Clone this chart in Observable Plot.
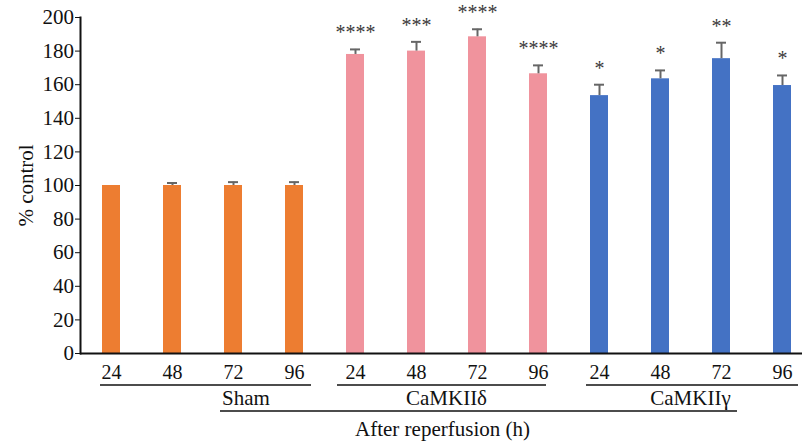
<!DOCTYPE html>
<html>
<head>
<meta charset="utf-8">
<script src="https://cdn.jsdelivr.net/npm/d3@7"></script>
<script src="https://cdn.jsdelivr.net/npm/@observablehq/plot@0.6"></script>
<style>
  html, body { margin: 0; padding: 0; background: #fff; }
  #chart svg { display: block; }
</style>
</head>
<body>
<div id="chart"></div>
<script>
// ---- data ----
const groups = ["Sham", "CaMKIIδ", "CaMKIIγ"];
const hours = ["24", "48", "72", "96"];
const shamValues = [100, 100, 100, 100];
const shamErr = [0, 1.5, 2, 2];
const deltaValues = [178, 180, 188.5, 166.5];
const deltaErr = [3, 5.5, 4.5, 5];
const gammaValues = [153.5, 163.5, 175.5, 159.5];
const gammaErr = [6.5, 5, 9.5, 6];
const shamStars = ["", "", "", ""];
const deltaStars = ["****", "***", "****", "****"];
const gammaStars = ["*", "*", "**", "*"];
const groupColors = ["#ED7D31", "#F0939D", "#4472C4"];
const yTicks = [0, 20, 40, 60, 80, 100, 120, 140, 160, 180, 200];
const yLabel = "% control";
const xTitle = "After reperfusion (h)";

const valueSets = [shamValues, deltaValues, gammaValues];
const errSets = [shamErr, deltaErr, gammaErr];
const starSets = [shamStars, deltaStars, gammaStars];

const data = [];
groups.forEach((g, gi) => {
  hours.forEach((h, hi) => {
    data.push({
      key: g + "|" + h, group: g, hour: h,
      value: valueSets[gi][hi], err: errSets[gi][hi],
      stars: starSets[gi][hi], color: groupColors[gi]
    });
  });
});
const keys = data.map(d => d.key);
const withErr = data.filter(d => d.err > 0);
const withStars = data.filter(d => d.stars);

const FONT = "Liberation Serif";

const plot = Plot.plot({
  width: 802,
  height: 443,
  marginLeft: 80,
  marginRight: 0,
  marginTop: 17,
  marginBottom: 90,
  style: { fontSize: "20px", color: "#111", background: "white", overflow: "visible" },
  x: { type: "band", domain: keys, range: [80, 813], paddingInner: 0.705, paddingOuter: 0.36, label: null },
  y: { domain: [0, 200], label: null },
  color: { type: "identity" },
  marks: [
    Plot.barY(data, { x: "key", y: "value", fill: "color" }),
    Plot.ruleX(withErr, { x: "key", y1: "value", y2: d => d.value + d.err, stroke: "#666", strokeWidth: 2 }),
    Plot.tickY(withErr, { x: "key", y: d => d.value + d.err, stroke: "#666", strokeWidth: 2, insetLeft: 4, insetRight: 4 }),
    Plot.text(withStars, { x: "key", y: d => d.value + d.err, text: "stars", dy: -10, lineAnchor: "bottom", fontSize: 20, fontFamily: FONT, fill: "#3a3a3a" }),
    Plot.axisY({ ticks: yTicks, tickSize: 5, tickPadding: 1.5, fontSize: 21, fontFamily: FONT, label: yLabel, labelAnchor: "center", labelArrow: "none", labelOffset: 62 }),
    Plot.axisX({ tickSize: 0, tickPadding: 11, fontSize: 20, fontFamily: FONT, tickFormat: k => k.split("|")[1], label: null }),
    Plot.frame({ anchor: "left", strokeWidth: 2, stroke: "#111" }),
    Plot.ruleY([0], { strokeWidth: 2, stroke: "#111" })
  ]
});

document.getElementById("chart").appendChild(plot);

// ---- group annotations below the axis, positioned with the plot's x scale ----
const xs = plot.scale("x");
const cx = k => xs.apply(k) + xs.bandwidth / 2;
const svg = d3.select(plot.tagName.toLowerCase() === "svg" ? plot : plot.querySelector("svg"));
const ann = svg.append("g").attr("font-size", 21).attr("fill", "#111");
const spans = [[-11, 17], [-18, 8], [-13, 16]];
const labelAt = [[2, 13], [1, 30.5], [1, 30.5]];
groups.forEach((g, gi) => {
  const k0 = g + "|" + hours[0], k1 = g + "|" + hours[hours.length - 1];
  ann.append("line")
    .attr("x1", cx(k0) + spans[gi][0]).attr("x2", cx(k1) + spans[gi][1])
    .attr("y1", 385).attr("y2", 385)
    .attr("stroke", "#111").attr("stroke-width", 1.5);
  ann.append("text")
    .attr("x", cx(g + "|" + hours[labelAt[gi][0]]) + labelAt[gi][1])
    .attr("y", 405).attr("text-anchor", "middle").text(g);
});
ann.append("line")
  .attr("x1", cx(groups[0] + "|" + hours[2]) - 13)
  .attr("x2", cx(groups[2] + "|" + hours[2]) + 16)
  .attr("y1", 411).attr("y2", 411)
  .attr("stroke", "#111").attr("stroke-width", 1.5);
ann.append("text")
  .attr("x", (cx(groups[1] + "|" + hours[1]) + cx(groups[1] + "|" + hours[2])) / 2 - 4)
  .attr("y", 436).attr("text-anchor", "middle").text(xTitle);

// serif face on every text element
svg.style("font-family", "'Liberation Serif', serif");
svg.selectAll("text").attr("font-family", FONT).style("font-family", "'Liberation Serif', serif");
</script>
</body>
</html>
